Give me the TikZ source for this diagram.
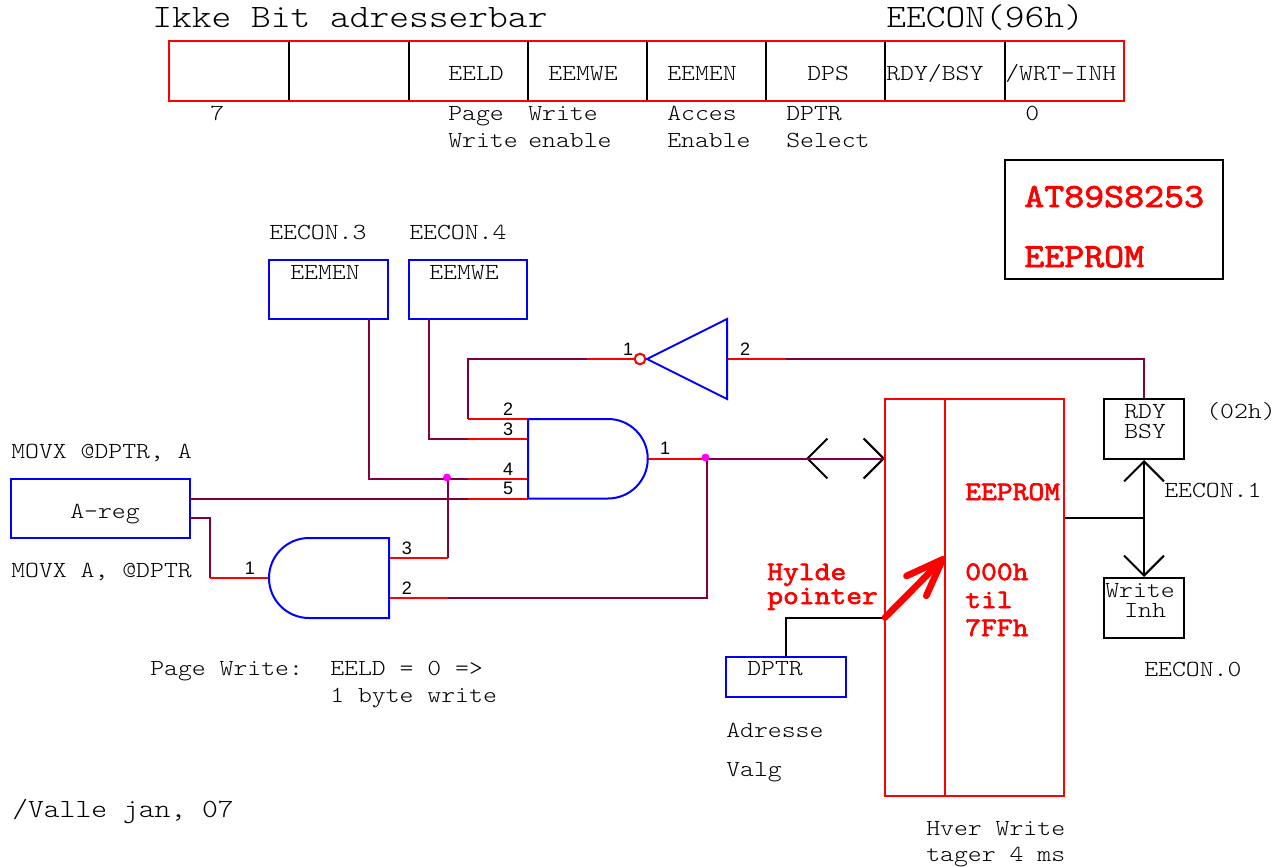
\documentclass[tikz,border=0pt]{standalone}
\usepackage{fontspec}
\usetikzlibrary{arrows.meta}
\newfontfamily\courfont[FakeStretch=1.15]{Latin Modern Mono Light}
\newfontfamily\courbold[FakeStretch=1.15,FakeBold=2.5]{Latin Modern Mono}
\newfontfamily\pinfont{Liberation Sans}
\definecolor{wirecol}{HTML}{800040}
\definecolor{dotcol}{RGB}{255,0,255}
\tikzset{
  lbl/.style={anchor=base west, inner sep=0pt, font=\courfont\fontsize{17.25}{20}\selectfont},
  midlbl/.style={lbl, font=\courfont\fontsize{19.65}{22}\selectfont},
  biglbl/.style={lbl, font=\courfont\fontsize{24.55}{28}\selectfont},
  redlbl/.style={lbl, text=red, font=\courbold\fontsize{20}{22}\selectfont},
  bigred/.style={lbl, text=red, font=\courbold\fontsize{25.3}{28}\selectfont},
  pinno/.style={anchor=base, inner sep=0pt, font=\pinfont\fontsize{13.5}{15}\selectfont},
  box/.style 2 args={draw, line width=1.5pt, inner sep=0pt, minimum width=#1*0.75pt, minimum height=#2*0.75pt},
  wire/.style={draw=wirecol, line width=1.5pt},
  pinline/.style={draw=red, line width=1.5pt},
  gate/.style={draw=blue, line width=1.5pt, line join=miter},
  blackline/.style={draw=black, line width=1.5pt},
  dotnode/.style={circle, fill=dotcol, inner sep=0pt, minimum size=6pt},
  vtip/.tip={Straight Barb[length=15pt, width=30pt]},
  thicktip/.tip={Straight Barb[length=28pt, width=21pt, round]},
}

\begin{document}
\begin{tikzpicture}[x=0.75pt, y=-0.75pt]
  \useasboundingbox (0,0) rectangle (1278,867);

  % register
  \foreach \x in {289,409,528,647,766,885,1005}
    \draw[blackline] (\x,41) -- (\x,101);
  \node[box={955}{60}, draw=red] (eecon) at (646.5,71) {};
  \node[biglbl] (title) at (152,28) {Ikke Bit adresserbar};
  \node[biglbl] (eeconaddr) at (886,28) {EECON(96h)};
  \node[lbl] (eeld) at (448,81) {EELD};
  \node[lbl] (eemwebit) at (548,81) {EEMWE};
  \node[lbl] (eemenbit) at (667,81) {EEMEN};
  \node[lbl] (dps) at (807,81) {DPS};
  \node[lbl] (rdybsy) at (886,81) {RDY/BSY};
  \node[lbl] (wrtinh) at (1005,81) {/WRT-INH};
  \node[lbl] (bit7) at (210,121) {7};
  \node[lbl] (page) at (448,121) {Page};
  \node[lbl] (write) at (528,121) {Write};
  \node[lbl] (acces) at (667,121) {Acces};
  \node[lbl] (dptrname) at (786,121) {DPTR};
  \node[lbl] (bit0) at (1025,121) {0};
  \node[lbl] (pagewrite) at (448,147) {Write};
  \node[lbl] (wenable) at (528,147) {enable};
  \node[lbl] (aenable) at (667,147) {Enable};
  \node[lbl] (select) at (786,147) {Select};

  \node[box={218}{119}] (chip) at (1114,219.5) {};
  \node[bigred] (chipname) at (1024,207) {AT89S8253};
  \node[bigred] (chipmem) at (1024,267) {EEPROM};

  % control boxes
  \node[lbl] (eecon3) at (269,239) {EECON.3};
  \node[lbl] (eecon4) at (409,239) {EECON.4};
  \node[box={119}{59}, draw=blue] (eemen) at (328.5,289.5) {};
  \node[box={118}{59}, draw=blue] (eemwe) at (468,289.5) {};
  \node[lbl] (eementxt) at (290,279) {EEMEN};
  \node[lbl] (eemwetxt) at (429,279) {EEMWE};
  \node[lbl] (movxw) at (11,458) {MOVX @DPTR, A};
  \node[lbl] (movxr) at (11,577) {MOVX A, @DPTR};
  \node[box={179}{59}, draw=blue] (areg) at (100.5,508.5) {};
  \node[lbl] (aregtxt) at (70,518) {A-reg};

  % status
  \node[box={80}{60}] (rdy) at (1144,429) {};
  \node[box={80}{60}] (wrinh) at (1144,608) {};
  \node[lbl] (rdytxt) at (1124,418) {RDY};
  \node[lbl] (bsytxt) at (1124,438) {BSY};
  \node[lbl] (writetxt) at (1105,597) {Write};
  \node[lbl] (inhtxt) at (1124,617) {Inh};
  \node[lbl] (addr) at (1206,418) {(02h)};
  \node[lbl] (eecon1) at (1164,497) {EECON.1};
  \node[lbl] (eecon0) at (1144,676) {EECON.0};
  \coordinate (stat) at (1144,518);
  \draw[blackline] (1065,518) coordinate (eepromout) -- (stat);
  \draw[blackline, -{vtip}] (stat) -- (rdy.south);
  \draw[blackline, -{vtip}] (stat) -- (wrinh.north);

  % pins
  \coordinate (a2) at (528,419);
  \coordinate (a3) at (528,438.5);
  \coordinate (a4) at (528,478.5);
  \coordinate (a5) at (528,498.5);
  \coordinate (ao) at (648,458.5);
  \coordinate (b1) at (269,578);
  \coordinate (b3) at (389,558);
  \coordinate (b2) at (389,598);
  \coordinate (invout) at (727,359);
  \node[circle, draw=red, line width=1.5pt, fill=white, inner sep=0pt, minimum size=8pt] (bubble) at (640,359) {};

  % wires
  \draw[wire] (368.5,319) coordinate (eemenout) |- (468,478.5) coordinate (j4);
  \draw[wire] (428.5,319) coordinate (eemweout) |- (468,438.5) coordinate (j3);
  \draw[wire] (587,359) coordinate (j1) -| (468,419) coordinate (j2);
  \draw[wire] (190,498.5) coordinate (aregout) -- (468,498.5) coordinate (j5);
  \draw[wire] (190,518) coordinate (aregrd) -| (210,578) coordinate (j6);
  \draw[wire] (448,558) coordinate (j7) -- (448,478.5);
  \draw[wire] (448,598) coordinate (j8) -- (707,598) -- (707,458.5) coordinate (j9);
  \draw[wire] (786,359) coordinate (j10) -| (rdy.north);
  \draw[blackline, {vtip}-{vtip}] (806,458.5) -- (885,458.5);
  \draw[wire] (j9) -- (885,458.5);
  \draw[pinline] (j2) -- (a2);
  \draw[pinline] (j3) -- (a3);
  \draw[pinline] (j4) -- (a4);
  \draw[pinline] (j5) -- (a5);
  \draw[pinline] (ao) -- (j9);
  \draw[pinline] (j6) -- (b1);
  \draw[pinline] (b3) -- (j7);
  \draw[pinline] (b2) -- (j8);
  \draw[pinline] (j1) -- (bubble);
  \draw[pinline] (invout) -- (j10);
  \node[dotnode] (dotb) at (447,477.5) {};
  \node[dotnode] (dota) at (705.5,457.5) {};

  % gates
  \draw[gate] (a2) -- (608,419) arc[start angle=-90, end angle=90, radius=39.75] -- (528,498.5) -- cycle;
  \draw[gate] (b3 |- 0,538) -- (309,538) arc[start angle=-90, end angle=-270, radius=40] -- (389,618) -- cycle;
  \draw[gate] (647,359) -- (727,319) -- (727,399) -- cycle;

  \node[pinno] (p2) at (508,415.5) {2};
  \node[pinno] (p3) at (508,435) {3};
  \node[pinno] (p4) at (508,475) {4};
  \node[pinno] (p5) at (508,494.5) {5};
  \node[pinno] (p1) at (665,454.5) {1};
  \node[pinno] (q1) at (628,355) {1};
  \node[pinno] (q2) at (745,355) {2};
  \node[pinno] (r3) at (407,554.5) {3};
  \node[pinno] (r2) at (407,594.5) {2};
  \node[pinno] (r1) at (250,574.5) {1};

  \node[lbl] (pwrite) at (150,675) {Page Write:};
  \node[lbl] (eeldzero) at (330,675) {EELD = 0 =>};
  \node[lbl] (onebyte) at (330,702) {1 byte write};
  \node[midlbl] (valle) at (12,817) {/Valle jan, 07};

  % eeprom
  \node[box={179}{397}, draw=red] (eeprom) at (974.5,597.5) {};
  \draw[pinline] (945,399) coordinate (divtop) -- (945,796) coordinate (divbot);
  \node[redlbl] (eepromtxt) at (965,500) {EEPROM};
  \node[redlbl] (from) at (965,580) {000h};
  \node[redlbl] (til) at (965,608) {til};
  \node[redlbl] (to) at (965,636) {7FFh};
  \node[redlbl] (hylde) at (767,580) {Hylde};
  \node[redlbl] (pointer) at (767,604) {pointer};

  \node[box={120}{40}, draw=blue] (dptr) at (786,677) {};
  \node[lbl] (dptrtxt) at (747,675) {DPTR};
  \coordinate (ptr) at (885,617.5);
  \coordinate (ptrtip) at (945,557);
  \draw[blackline] (dptr.north) |- (ptr);
  \draw[draw=red, line width=5pt, line cap=round, -{thicktip}] (ptr) -- (ptrtip);
  \node[lbl] (adresse) at (726,737) {Adresse};
  \node[lbl] (valg) at (726,776) {Valg};
  \node[lbl] (hver) at (926,835) {Hver Write};
  \node[lbl] (tager) at (926,861) {tager 4 ms};
\end{tikzpicture}
\end{document}
